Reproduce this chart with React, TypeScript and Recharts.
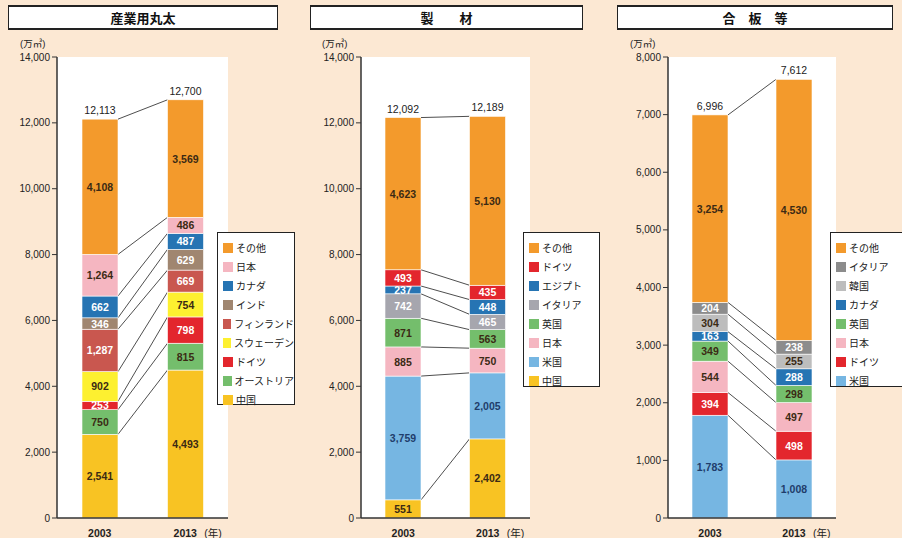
import { BarChart, Bar, XAxis, YAxis, CartesianGrid, Legend, LabelList } from 'recharts'

const years = ['2003', '2013']

// 産業用丸太 (stack order bottom -> top)
const logNames = ['中国', 'オーストリア', 'ドイツ', 'スウェーデン', 'フィンランド', 'インド', 'カナダ', '日本', 'その他']
const log2003 = [2541, 750, 253, 902, 1287, 346, 662, 1264, 4108]
const log2013 = [4493, 815, 798, 754, 669, 629, 487, 486, 3569]
const logTotals = [12113, 12700]
const logTicks = [0, 2000, 4000, 6000, 8000, 10000, 12000, 14000]

// 製材
const lumberNames = ['中国', '米国', '日本', '英国', 'イタリア', 'エジプト', 'ドイツ', 'その他']
const lumber2003 = [551, 3759, 885, 871, 742, 237, 493, 4623]
const lumber2013 = [2402, 2005, 750, 563, 465, 448, 435, 5130]
const lumberTotals = [12092, 12189]
const lumberTicks = [0, 2000, 4000, 6000, 8000, 10000, 12000, 14000]

// 合板等
const plyNames = ['米国', 'ドイツ', '日本', '英国', 'カナダ', '韓国', 'イタリア', 'その他']
const ply2003 = [1783, 394, 544, 349, 163, 304, 204, 3254]
const ply2013 = [1008, 498, 497, 298, 288, 255, 238, 4530]
const plyTotals = [6996, 7612]
const plyTicks = [0, 1000, 2000, 3000, 4000, 5000, 6000, 7000, 8000]

const ORANGE = '#F39A2C'
const PINK = '#F5B6C1'
const BLUE = '#2674B3'
const RED = '#E3262D'
const GREEN = '#74BE6C'
const GOLD = '#F8C323'
const SKY = '#76B6E2'
const DARK = '#3b2a14'
const WHITE = '#ffffff'
const NAVY = '#1f3d6b'

const logColors = [GOLD, GREEN, RED, '#FDF030', '#C9574F', '#A08670', BLUE, PINK, ORANGE]
const logText = [DARK, DARK, WHITE, DARK, WHITE, WHITE, WHITE, DARK, DARK]
const lumberColors = [GOLD, SKY, PINK, GREEN, '#A6A6AE', BLUE, RED, ORANGE]
const lumberText = [DARK, NAVY, DARK, DARK, WHITE, WHITE, WHITE, DARK]
const plyColors = [SKY, RED, PINK, GREEN, BLUE, '#BDBDBD', '#8C8C8C', ORANGE]
const plyText = [NAVY, WHITE, DARK, DARK, WHITE, DARK, WHITE, DARK]

const fmt = (v: number) => v.toLocaleString('en-US')
const sum = (a: number[]) => a.reduce((s, v) => s + v, 0)

interface PanelCfg {
  title: string
  chartLeft: number
  chartW: number
  plotX: number
  plotW: number
  yMax: number
  ticks: number[]
  names: string[]
  colors: string[]
  textColors: string[]
  a: number[]
  b: number[]
  totals: number[]
  titleBox: { left: number; width: number }
  unitLeft: number
  legendBox: { left: number; top: number; width: number; height: number }
}

const panels: PanelCfg[] = [
  {
    title: '産業用丸太', chartLeft: 0, chartW: 300, plotX: 57, plotW: 171, yMax: 14000, ticks: logTicks,
    names: logNames, colors: logColors, textColors: logText, a: log2003, b: log2013, totals: logTotals,
    titleBox: { left: 8, width: 270 }, unitLeft: 20,
    legendBox: { left: 217, top: 232, width: 78, height: 173 },
  },
  {
    title: '製　　材', chartLeft: 300, chartW: 305, plotX: 361, plotW: 169, yMax: 14000, ticks: lumberTicks,
    names: lumberNames, colors: lumberColors, textColors: lumberText, a: lumber2003, b: lumber2013, totals: lumberTotals,
    titleBox: { left: 310, width: 273 }, unitLeft: 322,
    legendBox: { left: 523, top: 232, width: 77, height: 155 },
  },
  {
    title: '合　板　等', chartLeft: 610, chartW: 292, plotX: 668, plotW: 168, yMax: 8000, ticks: plyTicks,
    names: plyNames, colors: plyColors, textColors: plyText, a: ply2003, b: ply2013, totals: plyTotals,
    titleBox: { left: 617, width: 276 }, unitLeft: 630,
    legendBox: { left: 830, top: 232, width: 76, height: 155 },
  },
]

const YAXIS_W = 50

function YearTick(props: any) {
  const { x, y, payload, index } = props
  return (
    <g>
      <text x={x} y={y + 11} textAnchor="middle" fontSize={10.5} fontWeight={600} fill="#222">{payload.value}</text>
      {index === 1 && (
        <text x={x + 19} y={y + 11} textAnchor="start" fontSize={10.5} fill="#222">(年)</text>
      )}
    </g>
  )
}

function Panel({ cfg }: { cfg: PanelCfg }) {
  const { chartLeft, chartW, plotX, plotW, yMax, ticks, names, colors, textColors, a, b, totals, legendBox } = cfg
  const data = years.map((yr, i) => {
    const row: Record<string, number | string> = { year: yr }
    names.forEach((_, k) => { row['s' + k] = (i === 0 ? a : b)[k] })
    return row
  })
  const offX = plotX - chartLeft
  const margin = { top: 57, bottom: 0, left: offX - YAXIS_W, right: chartW - offX - plotW }

  const makeShape = (k: number) => (p: any) => {
    const { x, y, width, height, index } = p
    const rect = <rect x={x} y={y} width={width} height={height} fill={colors[k]} stroke="#fff" strokeWidth={0.6} />
    if (index !== 0) return rect
    // connect top of this segment in 2003 to the same segment's top in 2013
    const ppu = height / a[k]
    const y2 = y - ppu * (sum(b.slice(0, k + 1)) - sum(a.slice(0, k + 1)))
    return (
      <g>
        {rect}
        <line x1={x + width} y1={y} x2={x + plotW / 2} y2={y2} stroke="#3a3a3a" strokeWidth={0.9} />
      </g>
    )
  }

  const legendItems = names.map((n, k) => ({ n, c: colors[k] })).reverse()

  return (
    <div style={{ position: 'absolute', left: chartLeft, top: 0 }}>
      <BarChart width={chartW} height={538} data={data} margin={margin} barSize={36}>
        <CartesianGrid fill="#ffffff" horizontal={false} vertical={false} />
        <XAxis dataKey="year" height={20} tick={<YearTick />} tickLine={false}
          axisLine={{ stroke: '#333', strokeWidth: 1.5 }} />
        <YAxis width={YAXIS_W} domain={[0, yMax]} ticks={ticks} interval={0} tickFormatter={fmt}
          tick={{ fontSize: 10, fill: '#222' }} tickSize={5}
          tickLine={{ stroke: '#333' }} axisLine={{ stroke: '#333', strokeWidth: 1.5 }} />
        <Legend layout="vertical" align="center" verticalAlign="middle"
          wrapperStyle={{ position: 'absolute', left: legendBox.left - chartLeft, top: legendBox.top, width: legendBox.width, height: legendBox.height }}
          content={() => (
            <div style={{ boxSizing: 'border-box', width: legendBox.width, height: legendBox.height, background: '#fff',
              border: '1.5px solid #222', padding: '5px 0 0 5px' }}>
              {legendItems.map(it => (
                <div key={it.n} style={{ display: 'flex', alignItems: 'center', height: 19, fontSize: 10, color: '#222', whiteSpace: 'nowrap' }}>
                  <span style={{ width: 10, height: 10, background: it.c, marginRight: 3, display: 'inline-block' }} />
                  {it.n}
                </div>
              ))}
            </div>
          )} />
        {names.map((n, k) => (
          <Bar key={n} dataKey={'s' + k} name={n} stackId="a" fill={colors[k]} shape={makeShape(k)} isAnimationActive={false}>
            <LabelList dataKey={'s' + k} content={(p: any) => {
              const { x, y, width, height, index } = p
              const v = (index === 0 ? a : b)[k]
              return (
                <text x={x + width / 2} y={y + height / 2 + 4} textAnchor="middle" fontSize={10.5} fontWeight={600}
                  fill={textColors[k]}>{fmt(v)}</text>
              )
            }} />
            {k === names.length - 1 && (
              <LabelList dataKey={'s' + k} content={(p: any) => {
                const { x, y, width, index } = p
                return (
                  <text x={x + width / 2} y={y - 5} textAnchor="middle" fontSize={10.5} fill="#222">{fmt(totals[index])}</text>
                )
              }} />
            )}
          </Bar>
        ))}
      </BarChart>
    </div>
  )
}

export default function App() {
  return (
    <div style={{ position: 'absolute', left: 0, top: 0, width: 902, height: 538, overflow: 'hidden',
      background: '#FCE8D3', fontFamily: "'Liberation Sans', 'Noto Sans CJK JP', sans-serif" }}>
      {panels.map(p => (
        <Panel key={p.title} cfg={p} />
      ))}
      {panels.map(p => (
        <div key={'t' + p.title}>
          <div style={{ position: 'absolute', left: p.titleBox.left, top: 5, width: p.titleBox.width, height: 25, boxSizing: 'border-box',
            background: '#fff', borderTop: '2px solid #222', borderBottom: '2px solid #222', borderLeft: '1px solid #222', borderRight: '1px solid #222',
            display: 'flex', alignItems: 'center', justifyContent: 'center', fontSize: 13, fontWeight: 700, color: '#111',
            fontFamily: "'Noto Sans CJK JP', sans-serif", whiteSpace: 'pre' }}>
            {p.title}
          </div>
          <div style={{ position: 'absolute', left: p.unitLeft, top: 36, fontSize: 9.5, color: '#222' }}>(万㎥)</div>
        </div>
      ))}
    </div>
  )
}
